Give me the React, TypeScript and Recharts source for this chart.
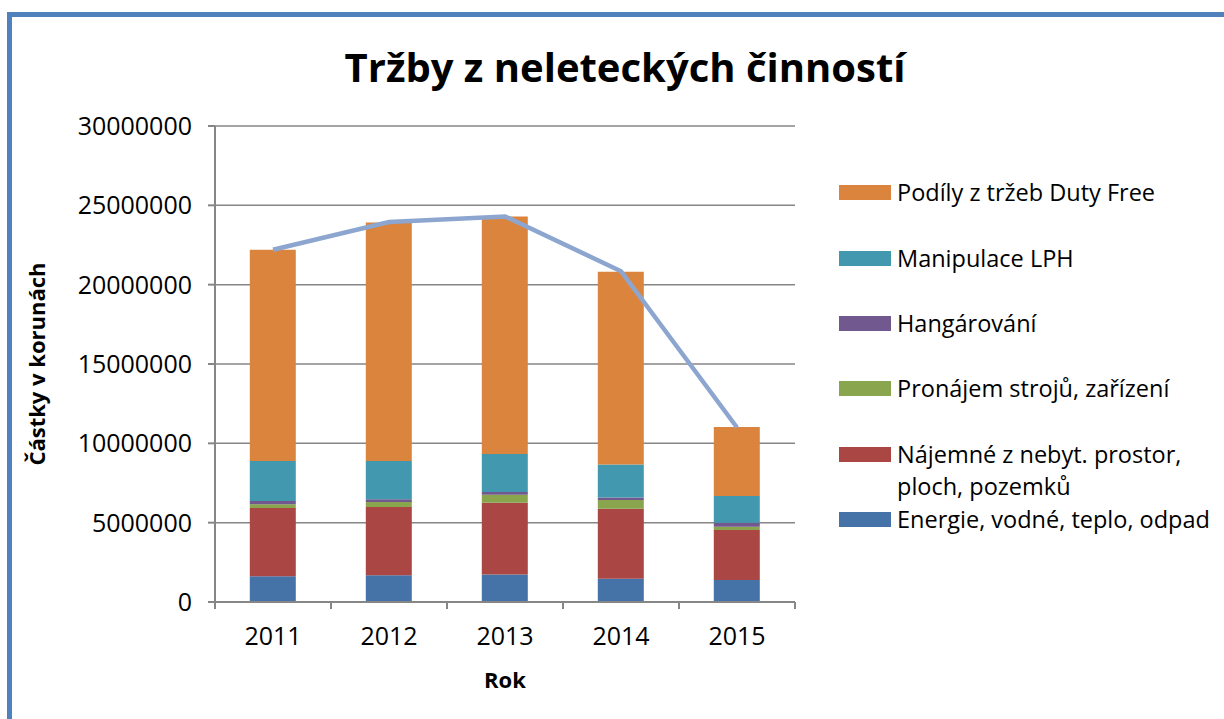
import React from 'react';
import {
  ComposedChart,
  Bar,
  Line,
  XAxis,
  YAxis,
  CartesianGrid,
} from 'recharts';

// hodnoty (Kč)
const roky = ['2011', '2012', '2013', '2014', '2015'];
const energie = [1620000, 1690000, 1740000, 1470000, 1380000];
const najemne = [4300000, 4300000, 4520000, 4410000, 3160000];
const pronajem = [240000, 310000, 500000, 550000, 210000];
const hangarovani = [200000, 170000, 170000, 160000, 250000];
const manipulace = [2520000, 2410000, 2400000, 2070000, 1680000];
const dutyFree = [13320000, 15040000, 14960000, 12160000, 4350000];
const celkem = [22200000, 23950000, 24300000, 20850000, 11000000];
const yTicks = [0, 5000000, 10000000, 15000000, 20000000, 25000000, 30000000];

const data = roky.map((rok, i) => ({
  rok,
  energie: energie[i],
  najemne: najemne[i],
  pronajem: pronajem[i],
  hangarovani: hangarovani[i],
  manipulace: manipulace[i],
  dutyFree: dutyFree[i],
  celkem: celkem[i],
}));

const FONT = '"Open Sans", sans-serif';
const GRID = '#868686';

const W = 1224;
const H = 719;
const PLOT_LEFT = 215;
const PLOT_RIGHT = 795;
const PLOT_TOP = 126;
const PLOT_BOTTOM = 602;
const BAND = (PLOT_RIGHT - PLOT_LEFT) / roky.length;

const legendItems = [
  { label: 'Podíly z tržeb Duty Free', color: '#DB843D' },
  { label: 'Manipulace LPH', color: '#4198AF' },
  { label: 'Hangárování', color: '#71588F' },
  { label: 'Pronájem strojů, zařízení', color: '#89A54E' },
  { label: 'Nájemné z nebyt. prostor,\nploch, pozemků', color: '#AA4643' },
  { label: 'Energie, vodné, teplo, odpad', color: '#4572A7' },
];
const legendRows = [192, 258, 323, 388, 454, 519];

const XTick = (props: any) => {
  const { x, payload, index } = props;
  const last = index === roky.length - 1;
  return (
    <g>
      <line x1={x - BAND / 2} y1={PLOT_BOTTOM} x2={x - BAND / 2} y2={PLOT_BOTTOM + 7} stroke={GRID} strokeWidth={2} />
      {last && (
        <line x1={x + BAND / 2} y1={PLOT_BOTTOM} x2={x + BAND / 2} y2={PLOT_BOTTOM + 7} stroke={GRID} strokeWidth={2} />
      )}
      <text x={x} y={645} textAnchor="middle" fontSize={25} fontFamily={FONT} fill="#000">
        {payload.value}
      </text>
    </g>
  );
};

const LegendBox = () => (
  <div style={{ position: 'absolute', left: 0, top: 0 }}>
    {legendItems.map((item, i) => {
      const lines = item.label.split('\n');
      return (
        <div key={item.label}>
          <div
            style={{
              position: 'absolute',
              left: 839,
              top: legendRows[i] - 7,
              width: 52,
              height: 15,
              background: item.color,
            }}
          />
          {lines.map((ln, j) => (
            <div
              key={ln}
              style={{
                position: 'absolute',
                left: 897,
                top: legendRows[i] - 16 + j * 32,
                fontSize: 23.5,
                lineHeight: '32px',
                fontFamily: FONT,
                color: '#000',
                whiteSpace: 'nowrap',
              }}
            >
              {ln}
            </div>
          ))}
        </div>
      );
    })}
  </div>
);

export default function App() {
  return (
    <div style={{ position: 'fixed', left: 0, top: 0, width: W, height: H, background: '#fff', overflow: 'hidden' }}>
      <div
        style={{
          position: 'absolute',
          left: 7,
          top: 12,
          width: W + 20,
          height: H + 20,
          borderTop: '5px solid #4F81BD',
          borderLeft: '5px solid #4F81BD',
          boxSizing: 'border-box',
        }}
      />
      <div
        style={{
          position: 'absolute',
          left: 0,
          top: 42,
          width: 1250,
          textAlign: 'center',
          fontFamily: FONT,
          fontWeight: 'bold',
          fontSize: 40,
          lineHeight: '50px',
          color: '#000',
        }}
      >
        Tržby z neleteckých činností
      </div>
      <div style={{ position: 'absolute', left: 0, top: 0 }}>
        <ComposedChart
          width={W}
          height={H}
          data={data}
          margin={{ top: PLOT_TOP, right: W - PLOT_RIGHT, bottom: 27, left: 0 }}
          barCategoryGap="30%"
        >
          <CartesianGrid vertical={false} stroke={GRID} strokeWidth={1.5} />
          <XAxis
            dataKey="rok"
            height={H - 27 - PLOT_BOTTOM}
            stroke={GRID}
            strokeWidth={2}
            tickLine={false}
            tick={<XTick />}
            label={{
              value: 'Rok',
              position: 'insideBottom',
              offset: 4,
              style: { fontFamily: FONT, fontWeight: 'bold', fontSize: 22, fill: '#000' },
            }}
          />
          <YAxis
            width={PLOT_LEFT}
            domain={[0, 30000000]}
            ticks={yTicks}
            interval={0}
            stroke={GRID}
            strokeWidth={2}
            tickSize={7}
            tickMargin={16}
            tick={{ fontFamily: FONT, fontSize: 25, fill: '#000' }}
            label={{
              value: 'Částky v korunách',
              angle: -90,
              position: 'insideLeft',
              offset: 37,
              style: { fontFamily: FONT, fontWeight: 'bold', fontSize: 22, fill: '#000', textAnchor: 'middle' },
            }}
          />
          <Bar dataKey="energie" stackId="a" fill="#4572A7" isAnimationActive={false} />
          <Bar dataKey="najemne" stackId="a" fill="#AA4643" isAnimationActive={false} />
          <Bar dataKey="pronajem" stackId="a" fill="#89A54E" isAnimationActive={false} />
          <Bar dataKey="hangarovani" stackId="a" fill="#71588F" isAnimationActive={false} />
          <Bar dataKey="manipulace" stackId="a" fill="#4198AF" isAnimationActive={false} />
          <Bar dataKey="dutyFree" stackId="a" fill="#DB843D" isAnimationActive={false} />
          <Line
            dataKey="celkem"
            stroke="#8CA6D0"
            strokeWidth={4.5}
            dot={false}
            activeDot={false}
            isAnimationActive={false}
            legendType="none"
          />
        </ComposedChart>
      </div>
      <LegendBox />
    </div>
  );
}
